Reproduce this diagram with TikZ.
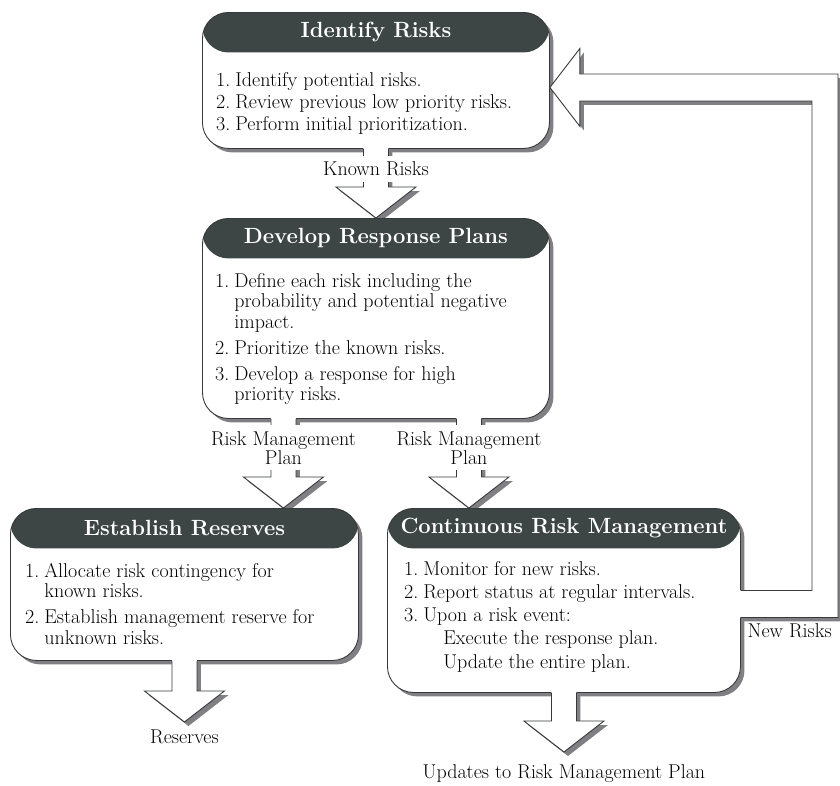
\documentclass[tikz,border=0pt]{standalone}
\usepackage{fontspec}
\usepackage{tikz}
\usetikzlibrary{calc,shadows}
\definecolor{boxhead}{RGB}{61,70,68}
\definecolor{boxshade}{RGB}{128,128,132}
\definecolor{boxline}{RGB}{55,58,58}
% #1 closed outline (filled), #2 open outline (stroked)
\newcommand{\shadedblock}[2]{%
  \begin{scope}[transform canvas={shift={(4pt,-4pt)}}]
    \fill[boxshade] #1 -- cycle;
  \end{scope}
  \fill[white] #1 -- cycle;
  \draw[blockline] #2;}
% block arrow leaving a box at #1, tip at #2
\newcommand{\downblock}[2]{%
  \shadedblock{($(#1)+(-12.5,-2)$) -- ($(#1|-#2)+(-12.5,-31)$) -- ($(#2)+(-40,-31)$) -- (#2)
    -- ($(#2)+(40,-31)$) -- ($(#1|-#2)+(12.5,-31)$) -- ($(#1)+(12.5,-2)$)}
  {($(#1)+(-12.5,0)$) -- ($(#1|-#2)+(-12.5,-31)$) -- ($(#2)+(-40,-31)$) -- (#2)
    -- ($(#2)+(40,-31)$) -- ($(#1|-#2)+(12.5,-31)$) -- ($(#1)+(12.5,0)$)}}

\begin{document}
\begin{tikzpicture}[x=1pt,y=-1pt,
  riskbox/.style={draw=boxline, line width=0.9pt, fill=white, rounded corners=26pt,
    anchor=north west, inner sep=0pt,
    drop shadow={shadow xshift=4pt, shadow yshift=-4pt, fill=boxshade, opacity=1},
    path picture={\fill[boxhead] ([yshift=2pt]path picture bounding box.north west)
      rectangle ([yshift=-40pt]path picture bounding box.north east);}},
  boxtitle/.style={text=white, font=\fontsize{22}{24}\selectfont\bfseries},
  steps/.style={anchor=base west, inner sep=0pt, font=\fontsize{20}{20.5}\selectfont},
  flowlabel/.style={inner sep=1.5pt, align=center, font=\fontsize{20}{20}\selectfont},
  onshaft/.style={fill=white, inner ysep=6pt},
  blockline/.style={draw=boxline, line width=0.9pt, line join=miter}]
\useasboundingbox (0,0) rectangle (840,785);

\node[riskbox, minimum width=347pt, minimum height=136pt] (ident) at (202,12) {};
\node[boxtitle] (ident-title) at ([yshift=-20pt]ident.north) {Identify Risks};
\node[steps] (ident-steps) at (216,86) {\begin{tabular}[t]{@{}r@{\hspace{5pt}}l@{}}
1.&Identify potential risks.\\[1.5pt]
2.&Review previous low priority risks.\\[1.5pt]
3.&Perform initial prioritization.
\end{tabular}};

\coordinate (known-tip) at (ident.south|-0,218);
\downblock{ident.south}{known-tip}
\node[flowlabel, onshaft, anchor=base] (known) at ($(ident.south)+(0,27)$) {Known Risks};

\node[riskbox, minimum width=347pt, minimum height=200pt] (dev) at (202,218) {};
\node[boxtitle] (dev-title) at ([yshift=-20pt]dev.north) {Develop Response Plans};
\node[steps] (dev-steps) at (215,287) {\begin{tabular}[t]{@{}r@{\hspace{5pt}}l@{}}
1.&Define each risk including the\\
  &probability and potential negative\\
  &impact.\\[5.5pt]
2.&Prioritize the known risks.\\[5.5pt]
3.&Develop a response for high\\
  &priority risks.
\end{tabular}};

\coordinate (plan-l) at ([xshift=-92.5pt]dev.south);
\coordinate (plan-r) at ([xshift=93pt]dev.south);
\coordinate (plan-l-tip) at (plan-l|-0,508);
\coordinate (plan-r-tip) at (plan-r|-0,508);
\downblock{plan-l}{plan-l-tip}
\downblock{plan-r}{plan-r-tip}
\node[flowlabel, onshaft] (plan-l-label) at ($(plan-l)+(0,29)$) {Risk Management\\[-1pt]Plan};
\node[flowlabel, onshaft] (plan-r-label) at ($(plan-r)+(0,29)$) {Risk Management\\[-1pt]Plan};

\node[riskbox, minimum width=348pt, minimum height=152pt] (est) at (10,508) {};
\node[boxtitle] (est-title) at ([yshift=-20pt]est.north) {Establish Reserves};
\node[steps] (est-steps) at (25,577) {\begin{tabular}[t]{@{}r@{\hspace{5pt}}l@{}}
1.&Allocate risk contingency for\\
  &known risks.\\[5.5pt]
2.&Establish management reserve for\\
  &unknown risks.
\end{tabular}};

\node[riskbox, minimum width=353pt, minimum height=184pt] (cont) at (387,508) {};
\node[boxtitle] (cont-title) at ([yshift=-20pt]cont.north) {Continuous Risk Management};
\node[steps] (cont-steps) at (404,575) {\begin{tabular}[t]{@{}r@{\hspace{5pt}}l@{}}
1.&Monitor for new risks.\\[2.8pt]
2.&Report status at regular intervals.\\[2.8pt]
3.&Upon a risk event:\\[2.8pt]
  &\hspace{20pt}Execute the response plan.\\[2.8pt]
  &\hspace{20pt}Update the entire plan.
\end{tabular}};

\coordinate (res-tip) at (est.south|-0,722);
\coordinate (upd-tip) at (cont.south|-0,752);
\downblock{est.south}{res-tip}
\downblock{cont.south}{upd-tip}
\node[flowlabel, anchor=base] (res) at (est.south|-0,743) {Reserves};
\node[flowlabel, anchor=base] (upd) at (cont.south|-0,778) {Updates to Risk Management Plan};

% feedback loop back to the first box
\coordinate (loop-in) at ([yshift=-3.5pt]cont.east);
\coordinate (loop-tip) at ([yshift=-7pt]ident.east);
\coordinate (loop-turn) at (825,0);
\shadedblock{($(loop-in)+(-2,13.5)$) -- ($(loop-turn|-loop-in)+(13,13.5)$)
  -- ($(loop-turn|-loop-tip)+(13,-13.5)$) -- ($(loop-tip)+(30,-13.5)$) -- ($(loop-tip)+(30,-39)$)
  -- (loop-tip) -- ($(loop-tip)+(30,39)$) -- ($(loop-tip)+(30,13.5)$)
  -- ($(loop-turn|-loop-tip)+(-13,13.5)$) -- ($(loop-turn|-loop-in)+(-13,-13.5)$)
  -- ($(loop-in)+(-2,-13.5)$)}
 {($(loop-in)+(0,13.5)$) -- ($(loop-turn|-loop-in)+(13,13.5)$)
  -- ($(loop-turn|-loop-tip)+(13,-13.5)$) -- ($(loop-tip)+(30,-13.5)$) -- ($(loop-tip)+(30,-39)$)
  -- (loop-tip) -- ($(loop-tip)+(30,39)$) -- ($(loop-tip)+(30,13.5)$)
  -- ($(loop-turn|-loop-tip)+(-13,13.5)$) -- ($(loop-turn|-loop-in)+(-13,-13.5)$)
  -- ($(loop-in)+(0,-13.5)$)}
\node[flowlabel, anchor=base west] (newrisks) at (746,637) {New Risks};
\end{tikzpicture}
\end{document}
